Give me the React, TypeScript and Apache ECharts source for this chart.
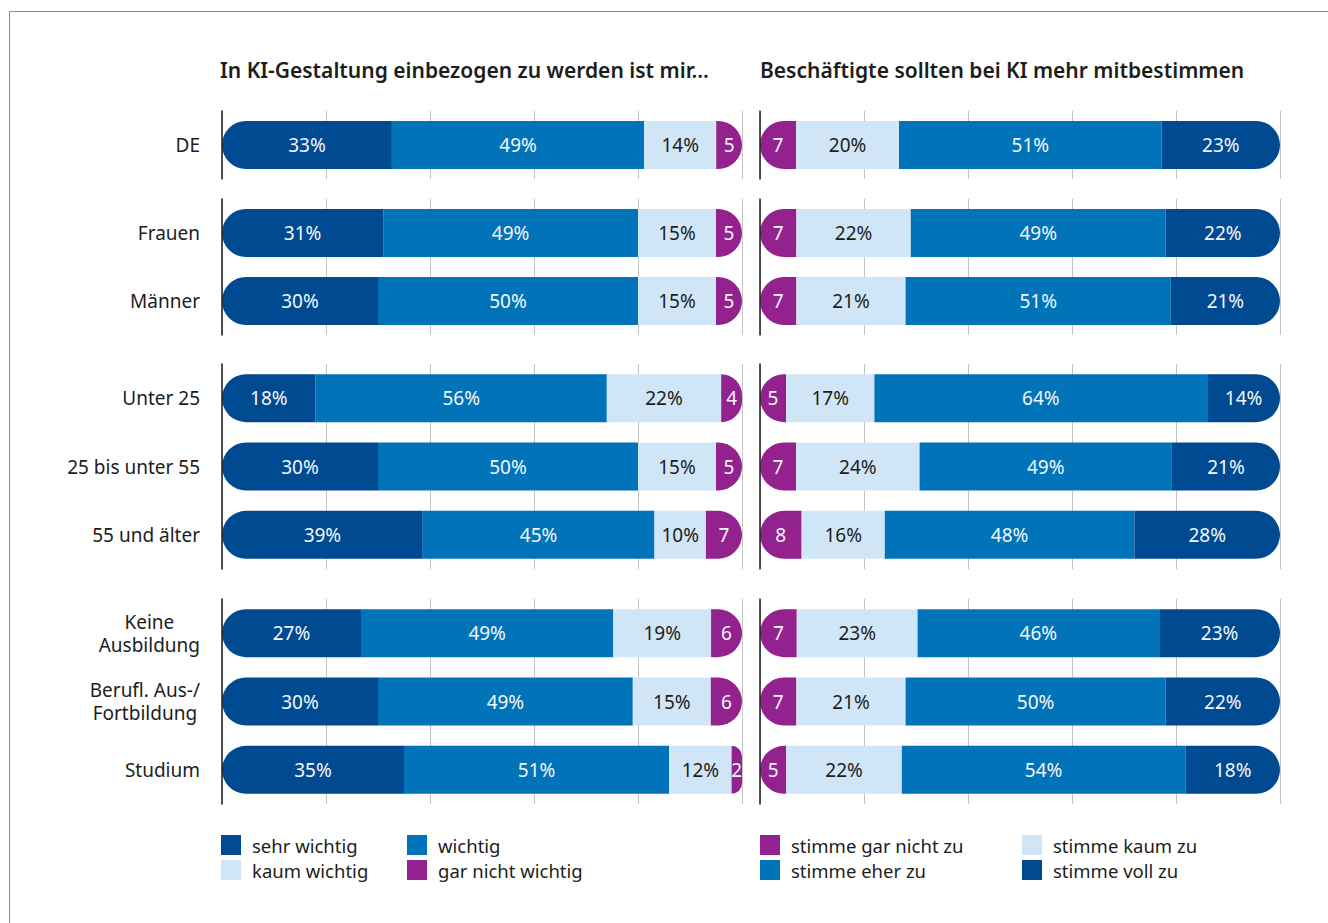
import React, { useEffect, useRef } from "react";
import * as echarts from "echarts";

// ---- Data ----
const categories = [
  "DE",
  "Frauen",
  "Männer",
  "Unter 25",
  "25 bis unter 55",
  "55 und älter",
  "Keine\nAusbildung",
  "Berufl. Aus-/\nFortbildung",
  "Studium",
];
// row indices forming each visual block
const rowGroups = [[0], [1, 2], [3, 4, 5], [6, 7, 8]];

const leftTitle = "In KI-Gestaltung einbezogen zu werden ist mir...";
const rightTitle = "Beschäftigte sollten bei KI mehr mitbestimmen";

const leftNames = ["sehr wichtig", "wichtig", "kaum wichtig", "gar nicht wichtig"];
const sehrWichtig = [33, 31, 30, 18, 30, 39, 27, 30, 35];
const wichtig = [49, 49, 50, 56, 50, 45, 49, 49, 51];
const kaumWichtig = [14, 15, 15, 22, 15, 10, 19, 15, 12];
const garNichtWichtig = [5, 5, 5, 4, 5, 7, 6, 6, 2];

const rightNames = ["stimme gar nicht zu", "stimme kaum zu", "stimme eher zu", "stimme voll zu"];
const stimmeGarNicht = [7, 7, 7, 5, 7, 8, 7, 7, 5];
const stimmeKaum = [20, 22, 21, 17, 24, 16, 23, 21, 22];
const stimmeEher = [51, 49, 51, 64, 49, 48, 46, 50, 54];
const stimmeVoll = [23, 22, 21, 14, 21, 28, 23, 22, 18];

// ---- Styles ----
const FONT = "'Noto Sans', 'Open Sans', sans-serif";
const DARK = "#004a91";
const MID = "#0073b9";
const LIGHT = "#d0e6f6";
const PURPLE = "#93218e";
const TEXT = "#1d1d1b";

const leftColors = [DARK, MID, LIGHT, PURPLE];
const rightColors = [PURPLE, LIGHT, MID, DARK];

const panelLeft = [222, 760];
const panelWidth = 520;
const groupTop = [111, 199, 364, 599];
const groupHeight = [68, 136, 205, 205];

function buildOption() {
  const grids: any[] = [];
  const xAxes: any[] = [];
  const yAxes: any[] = [];
  const series: any[] = [];

  const panels = [
    { names: leftNames, values: [sehrWichtig, wichtig, kaumWichtig, garNichtWichtig], colors: leftColors, percentOn: [true, true, true, false] },
    { names: rightNames, values: [stimmeGarNicht, stimmeKaum, stimmeEher, stimmeVoll], colors: rightColors, percentOn: [false, true, true, true] },
  ];

  panels.forEach((panel, pi) => {
    const totals = categories.map((_, r) => panel.values.reduce((s, arr) => s + arr[r], 0));
    rowGroups.forEach((rows, gi) => {
      const idx = grids.length;
      grids.push({
        left: panelLeft[pi],
        width: panelWidth,
        top: groupTop[gi],
        height: groupHeight[gi],
        containLabel: false,
      });
      xAxes.push({
        type: "value",
        gridIndex: idx,
        min: 0,
        max: 100,
        interval: 20,
        axisLabel: { show: false },
        axisLine: { show: false },
        axisTick: { show: false },
        splitLine: { show: true, lineStyle: { color: "#c4c4c4", width: 1 } },
      });
      yAxes.push({
        type: "category",
        gridIndex: idx,
        inverse: true,
        data: rows.map((r) => categories[r]),
        z: 5,
        axisLine: { show: true, onZero: false, lineStyle: { color: "#1d1d1b", width: 1.5 } },
        axisTick: { show: false },
        axisLabel: {
          show: pi === 0,
          margin: 22,
          formatter: (v: string) => v.split("\n").map((l) => `{c|${l}}`).join("\n"),
          rich: {
            c: { align: "center", fontSize: 19, lineHeight: 23, color: TEXT, fontFamily: FONT },
          },
        },
      });
      panel.names.forEach((name, si) => {
        const vals = panel.values[si];
        const radius = si === 0 ? [24, 0, 0, 24] : si === 3 ? [0, 24, 24, 0] : 0;
        const color = panel.colors[si];
        series.push({
          type: "bar",
          name,
          xAxisIndex: idx,
          yAxisIndex: idx,
          stack: "s" + idx,
          barWidth: 48,
          data: rows.map((r) => (vals[r] / totals[r]) * 100),
          itemStyle: { color, borderRadius: radius },
          label: {
            show: true,
            position: "inside",
            fontSize: 19,
            fontFamily: FONT,
            color: color === LIGHT ? TEXT : "#f4f6fa",
            formatter: (p: any) => `${vals[rows[p.dataIndex]]}${panel.percentOn[si] ? "%" : ""}`,
          },
          emphasis: { disabled: true },
        });
      });
    });
  });

  const legendBase = {
    orient: "vertical",
    top: 835,
    padding: 0,
    itemWidth: 20,
    itemHeight: 20,
    itemGap: 5,
    icon: "rect",
    selectedMode: false,
    textStyle: { fontSize: 18.5, color: TEXT, fontFamily: FONT, padding: [0, 0, 0, 6] },
  };

  const titleStyle = { fontSize: 21, fontWeight: 600, color: TEXT, fontFamily: FONT };

  return {
    animation: false,
    backgroundColor: "#ffffff",
    textStyle: { fontFamily: FONT },
    title: [
      { text: leftTitle, left: 215, top: 54, textStyle: titleStyle },
      { text: rightTitle, left: 755, top: 54, textStyle: titleStyle },
    ],
    legend: [
      { ...legendBase, left: 221, data: [leftNames[0], leftNames[2]] },
      { ...legendBase, left: 407, data: [leftNames[1], leftNames[3]] },
      { ...legendBase, left: 760, data: [rightNames[0], rightNames[2]] },
      { ...legendBase, left: 1022, data: [rightNames[1], rightNames[3]] },
    ],
    graphic: [
      {
        type: "rect",
        shape: { x: 9.5, y: 11.5, width: 1400, height: 1000 },
        style: { fill: "none", stroke: "#8a8a8a", lineWidth: 1 },
        silent: true,
        z: -1,
      },
    ],
    grid: grids,
    xAxis: xAxes,
    yAxis: yAxes,
    series,
  };
}

export default function App() {
  const ref = useRef<HTMLDivElement>(null);
  useEffect(() => {
    if (!ref.current) return;
    const chart = echarts.init(ref.current, undefined, { renderer: "svg" });
    chart.setOption(buildOption() as any);
    return () => chart.dispose();
  }, []);
  return (
    <div
      ref={ref}
      style={{ position: "fixed", left: 0, top: 0, width: 1328, height: 923, background: "#fff" }}
    />
  );
}
